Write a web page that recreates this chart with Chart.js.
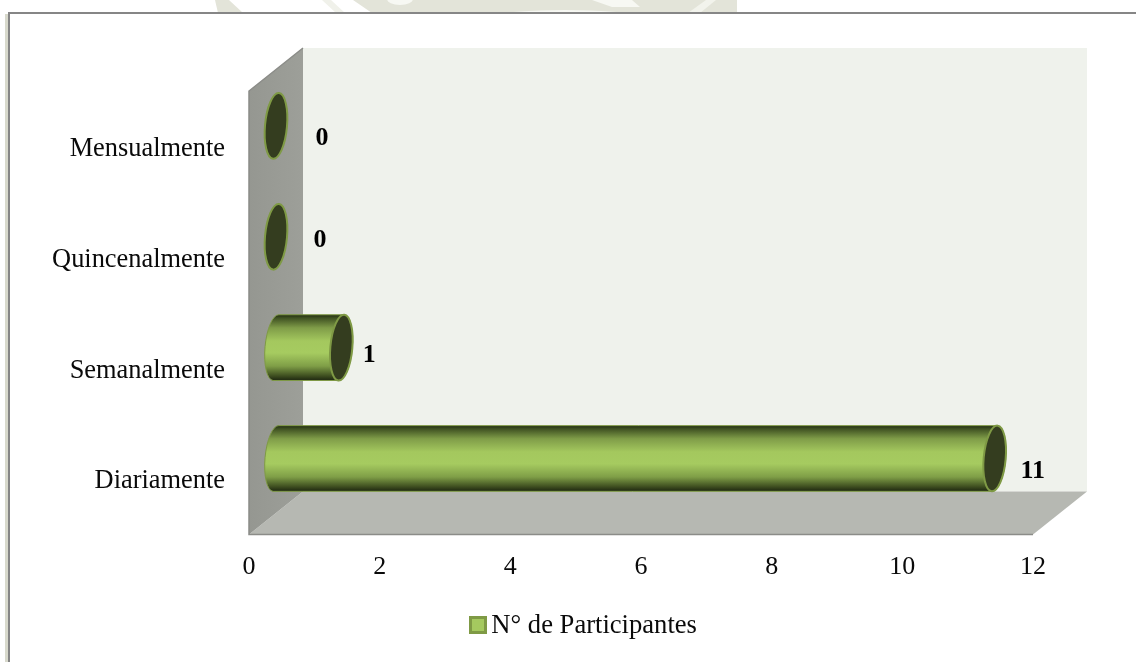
<!DOCTYPE html>
<html lang="es">
<head>
<meta charset="utf-8">
<title>N° de Participantes</title>
<script src="https://cdn.jsdelivr.net/npm/chart.js@4/dist/chart.umd.min.js"></script>
<style>
  html, body { margin: 0; background: #fff; }
  #wrap { width: 1136px; height: 662px; }
</style>
</head>
<body>
<div id="wrap"><canvas id="chart" width="1136" height="662"></canvas></div>
<script>
const seriesName = 'N° de Participantes';
const categories = ['Diariamente', 'Semanalmente', 'Quincenalmente', 'Mensualmente'];
const participants = [11, 1, 0, 0];
const valueTicks = [0, 2, 4, 6, 8, 10, 12];

const SERIF = '"Liberation Serif", "Times New Roman", serif';
const INK = '#0a0a0a';
const GREEN = '#a5c95f';
const GREEN_EDGE = '#7f9a45';
const CAP = '#343d1f';

// Depth of the fake 3D box; the tubes sit halfway into it.
const DEPTH_X = 54;
const DEPTH_Y = 43;
const TUBE_LIFT = 20.5;
const ELLIPSE_RX = 11;
const ELLIPSE_TILT = 0.09;

// Hand-placed value labels, relative to the tip of each bar on the front plane.
const labelNudge = [[65, -8], [55, -13], [71, -17], [73, -8]];

function polygon(ctx, points, fill) {
  ctx.beginPath();
  points.forEach(([x, y], i) => (i ? ctx.lineTo(x, y) : ctx.moveTo(x, y)));
  ctx.closePath();
  ctx.fillStyle = fill;
  ctx.fill();
}

// Page furniture behind the chart: faded crest at the top and the frame.
const pageBackdrop = {
  id: 'pageBackdrop',
  beforeDraw(chart) {
    const ctx = chart.ctx;
    ctx.save();
    ctx.beginPath();
    ctx.rect(0, 0, 1136, 13);
    ctx.clip();
    polygon(ctx, [[215, 0], [229, 0], [243, 13], [218, 13]], '#e3e4d9');
    polygon(ctx, [[322, 0], [331, 0], [345, 13], [336, 13]], '#f0f1ea');
    polygon(ctx, [[353, 0], [737, 0], [737, 13], [372, 13]], '#e3e4d9');
    ctx.fillStyle = '#f7f8f3';
    ctx.beginPath();
    ctx.ellipse(400, -1, 13, 6, 0, 0, Math.PI * 2);
    ctx.fill();
    ctx.beginPath();
    ctx.ellipse(565, 34, 125, 24, 0, 0, Math.PI * 2);
    ctx.fill();
    polygon(ctx, [[592, 0], [632, 0], [640, 7], [612, 7]], '#f7f8f3');
    polygon(ctx, [[706, 0], [716, 0], [700, 13], [688, 13]], '#f2f3ec');
    ctx.restore();

    ctx.fillStyle = '#d8d9cc';
    ctx.fillRect(5, 14, 3, 648);
    ctx.fillStyle = '#868686';
    ctx.fillRect(8, 12, 1128, 2);
    ctx.fillRect(8, 12, 2, 650);
  },
};

// Side wall, back wall and floor, hung off the real plot area.
const boxWalls = {
  id: 'boxWalls',
  beforeDatasetsDraw(chart) {
    const { ctx, chartArea: { left, right, top, bottom } } = chart;
    const backLeft = left + DEPTH_X;
    const backRight = right + DEPTH_X;
    const backTop = top - DEPTH_Y;
    const backBottom = bottom - DEPTH_Y;
    ctx.save();
    polygon(ctx, [[backLeft, backTop], [backRight, backTop], [backRight, backBottom], [backLeft, backBottom]], '#eff2ec');
    polygon(ctx, [[left, bottom], [backLeft, backBottom], [backRight, backBottom], [right, bottom]], '#b6b8b2');
    const wall = ctx.createLinearGradient(left, 0, backLeft, 0);
    wall.addColorStop(0, '#959791');
    wall.addColorStop(1, '#9d9f99');
    polygon(ctx, [[left, top], [backLeft, backTop], [backLeft, backBottom], [left, bottom]], wall);
    ctx.strokeStyle = '#8b8c88';
    ctx.lineWidth = 1.5;
    ctx.beginPath();
    ctx.moveTo(backLeft, backTop);
    ctx.lineTo(left, top);
    ctx.lineTo(left, bottom);
    ctx.lineTo(right, bottom);
    ctx.stroke();
    ctx.restore();
  },
};

// Bars are redrawn as tubes from the geometry the bar controller worked out.
const tubeBars = {
  id: 'tubeBars',
  beforeDatasetDraw(chart, args) {
    const ctx = chart.ctx;
    args.meta.data.forEach((bar) => {
      const cy = bar.y - TUBE_LIFT;
      const ry = bar.height / 2;
      const start = bar.base + DEPTH_X / 2;
      const end = bar.x + DEPTH_X / 2;
      ctx.save();
      if (end > start) {
        const body = ctx.createLinearGradient(0, cy - ry, 0, cy + ry);
        body.addColorStop(0, '#1f2a10');
        body.addColorStop(0.05, '#3f5122');
        body.addColorStop(0.2, '#7f9c48');
        body.addColorStop(0.4, '#a4c85e');
        body.addColorStop(0.58, '#a6cb60');
        body.addColorStop(0.78, '#7f9e47');
        body.addColorStop(0.93, '#3d4d1f');
        body.addColorStop(1, '#1c2510');
        ctx.beginPath();
        ctx.ellipse(start, cy, ELLIPSE_RX, ry, ELLIPSE_TILT, -Math.PI / 2, Math.PI / 2, true);
        ctx.ellipse(end, cy, ELLIPSE_RX, ry, ELLIPSE_TILT, Math.PI / 2, -Math.PI / 2, true);
        ctx.closePath();
        ctx.fillStyle = body;
        ctx.fill();
        ctx.strokeStyle = GREEN_EDGE;
        ctx.lineWidth = 1;
        ctx.stroke();
      }
      ctx.beginPath();
      ctx.ellipse(end, cy, ELLIPSE_RX, ry, ELLIPSE_TILT, 0, Math.PI * 2);
      ctx.fillStyle = CAP;
      ctx.fill();
      ctx.strokeStyle = GREEN_EDGE;
      ctx.lineWidth = 2;
      ctx.stroke();
      ctx.restore();
    });
    return false;
  },
};

const valueLabels = {
  id: 'valueLabels',
  afterDatasetsDraw(chart) {
    const ctx = chart.ctx;
    const bars = chart.getDatasetMeta(0).data;
    ctx.save();
    ctx.font = 'bold 26px ' + SERIF;
    ctx.fillStyle = '#000';
    ctx.textAlign = 'center';
    ctx.textBaseline = 'middle';
    bars.forEach((bar, i) => {
      const [dx, dy] = labelNudge[i];
      ctx.fillText(String(participants[i]), bar.x + dx, bar.y + dy);
    });
    ctx.restore();
  },
};

// The legend text sits closer to its swatch than Chart.js allows, so the library
// lays out the label and the swatch is painted here.
const legendSwatch = {
  id: 'legendSwatch',
  afterLayout(chart) {
    chart.legend.left = 30;
    chart.legend.right = 1136;
    chart.legend.top -= 5;
  },
  afterDraw(chart) {
    const ctx = chart.ctx;
    ctx.save();
    ctx.fillStyle = GREEN;
    ctx.strokeStyle = GREEN_EDGE;
    ctx.lineWidth = 3;
    ctx.fillRect(470.5, 617.5, 15, 15);
    ctx.strokeRect(470.5, 617.5, 15, 15);
    ctx.restore();
  },
};

new Chart(document.getElementById('chart'), {
  type: 'bar',
  data: {
    labels: categories,
    datasets: [{
      label: seriesName,
      data: participants,
      backgroundColor: GREEN,
      borderColor: GREEN_EDGE,
      categoryPercentage: 1,
      barPercentage: 0.595,
    }],
  },
  options: {
    indexAxis: 'y',
    responsive: false,
    animation: false,
    layout: { padding: { top: 91, right: 103, bottom: 8, left: 0 } },
    scales: {
      x: {
        min: 0,
        max: 12,
        grid: { display: false, drawTicks: false },
        border: { display: false },
        afterBuildTicks(scale) {
          scale.ticks = valueTicks.map((value) => ({ value }));
        },
        afterFit(scale) { scale.height = 67; },
        ticks: {
          padding: 17,
          maxRotation: 0,
          color: INK,
          font: { family: SERIF, size: 26 },
        },
      },
      y: {
        reverse: true,
        grid: { display: false, drawTicks: false },
        border: { display: false },
        afterFit(scale) { scale.width = 249; },
        ticks: {
          padding: 24,
          labelOffset: 2.5,
          color: INK,
          font: { family: SERIF, size: 26.4 },
        },
      },
    },
    plugins: {
      tooltip: { enabled: false },
      legend: {
        display: true,
        position: 'bottom',
        labels: {
          boxWidth: 9,
          boxHeight: 9,
          padding: 16,
          color: INK,
          font: { family: SERIF, size: 26.6 },
          generateLabels: () => [{ text: seriesName, fontColor: INK, fillStyle: 'transparent', strokeStyle: 'transparent', lineWidth: 0 }],
        },
      },
    },
  },
  plugins: [pageBackdrop, boxWalls, tubeBars, valueLabels, legendSwatch],
});
</script>
</body>
</html>
